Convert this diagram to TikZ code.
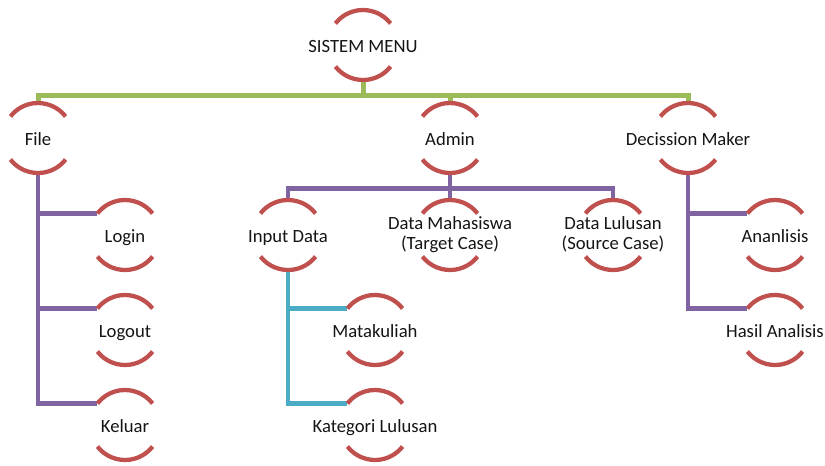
\documentclass[tikz,border=0pt]{standalone}
\usepackage{fontspec}
\setmainfont{Carlito}
\usetikzlibrary{calc}
\definecolor{ArcRed}{HTML}{C0504D}
\definecolor{LineGreen}{HTML}{9BBB59}
\definecolor{LinePurple}{HTML}{8064A2}
\definecolor{LineCyan}{HTML}{4BACC6}
\definecolor{Text}{HTML}{141414}
\newcommand{\linestrut}{\rule[-3.5pt]{0pt}{17.5pt}}

\begin{document}
\begin{tikzpicture}[x=0.75pt,y=0.75pt,item/.style={minimum width=52.5pt, minimum height=52.5pt, inner sep=0pt, align=center, text=Text, font=\fontsize{14}{15}\selectfont, execute at begin node=\linestrut, execute at end node=\linestrut},arcline/.style={draw=ArcRed, line width=3.2pt},levelone/.style={draw=LineGreen, line width=3.75pt},leveltwo/.style={draw=LinePurple, line width=3.5pt},levelthree/.style={draw=LineCyan, line width=3.5pt}]
\useasboundingbox (0,0) rectangle (825,-465);
\node[item] (menu) at (363,-45) {SISTEM MENU};
\node[item] (file) at (38,-138) {File};
\node[item] (admin) at (450,-138) {Admin};
\node[item] (dm) at (688,-138) {Decission Maker};
\node[item] (login) at (125,-235) {Login};
\node[item] (logout) at (125,-330) {Logout};
\node[item] (keluar) at (125,-425) {Keluar};
\node[item] (input) at (288,-235) {Input Data};
\node[item] (mhs) at (450,-235) {Data Mahasiswa\\(Target Case)};
\node[item] (lulusan) at (613,-235) {Data Lulusan\\(Source Case)};
\node[item] (matkul) at (375,-330) {Matakuliah};
\node[item] (kategori) at (375,-425) {Kategori Lulusan};
\node[item] (analisis) at (775,-235) {Ananlisis};
\node[item] (hasil) at (775,-330) {Hasil Analisis};
\foreach \c in {file,admin,dm} \draw[levelone] (menu.south) -- ++(0,-15) -| (\c.north);
\foreach \c in {input,mhs,lulusan} \draw[leveltwo] (admin.south) -- ++(0,-15) -| (\c.north);
\foreach \c in {login,logout,keluar} \draw[leveltwo] (file.south) |- ([shift={(142:35)}]\c.center);
\foreach \c in {matkul,kategori} \draw[levelthree] (input.south) |- ([shift={(142:35)}]\c.center);
\foreach \c in {analisis,hasil} \draw[leveltwo] (dm.south) |- ([shift={(142:35)}]\c.center);
\foreach \n in {menu,file,admin,dm,login,logout,keluar,input,mhs,lulusan,matkul,kategori,analisis,hasil} {
  \draw[arcline] ([shift={(38:35)}]\n.center) arc (38:142:35);
  \draw[arcline] ([shift={(218:35)}]\n.center) arc (218:322:35);
}
\end{tikzpicture}
\end{document}
